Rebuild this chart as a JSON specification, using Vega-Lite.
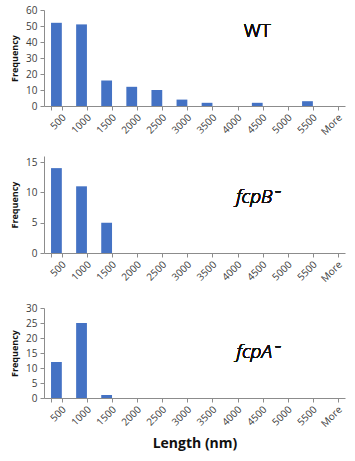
{
  "$schema": "https://vega.github.io/schema/vega-lite/v6.json",
  "padding": {"left": 10, "top": 5, "right": 4, "bottom": 5},
  "background": "white",
  "datasets": {
    "wt": [
      {"length": "500", "freq": 52}, {"length": "1000", "freq": 51}, {"length": "1500", "freq": 16},
      {"length": "2000", "freq": 12}, {"length": "2500", "freq": 10}, {"length": "3000", "freq": 4},
      {"length": "3500", "freq": 2}, {"length": "4000", "freq": 0}, {"length": "4500", "freq": 2},
      {"length": "5000", "freq": 0}, {"length": "5500", "freq": 3}, {"length": "More", "freq": 0}
    ],
    "fcpB": [
      {"length": "500", "freq": 14}, {"length": "1000", "freq": 11}, {"length": "1500", "freq": 5},
      {"length": "2000", "freq": 0}, {"length": "2500", "freq": 0}, {"length": "3000", "freq": 0},
      {"length": "3500", "freq": 0}, {"length": "4000", "freq": 0}, {"length": "4500", "freq": 0},
      {"length": "5000", "freq": 0}, {"length": "5500", "freq": 0}, {"length": "More", "freq": 0}
    ],
    "fcpA": [
      {"length": "500", "freq": 12}, {"length": "1000", "freq": 25}, {"length": "1500", "freq": 1},
      {"length": "2000", "freq": 0}, {"length": "2500", "freq": 0}, {"length": "3000", "freq": 0},
      {"length": "3500", "freq": 0}, {"length": "4000", "freq": 0}, {"length": "4500", "freq": 0},
      {"length": "5000", "freq": 0}, {"length": "5500", "freq": 0}, {"length": "More", "freq": 0}
    ]
  },
  "spacing": 19,
  "vconcat": [
    {
      "width": 301, "height": 96,
      "data": {"name": "wt"},
      "layer": [
        {
          "mark": {"type": "bar", "color": "#4472C4"},
          "encoding": {
            "x": {"field": "length", "type": "nominal", "sort": null, "title": null,
                  "scale": {"paddingInner": 0.57, "paddingOuter": 0.28}},
            "y": {"field": "freq", "type": "quantitative", "title": "Frequency",
                  "scale": {"domain": [0, 60]}, "axis": {"values": [0, 10, 20, 30, 40, 50, 60], "labelOverlap": false}}
          }
        },
        {
          "mark": {"type": "text", "text": "WT", "fontSize": 19, "font": "Open Sans", "fontWeight": 300, "color": "#111"},
          "encoding": {
            "x": {"datum": "4500", "title": null},
            "y": {"datum": 47, "title": "Frequency", "axis": {"values": [0, 10, 20, 30, 40, 50, 60], "labelOverlap": false}}
          }
        }
      ]
    },
    {
      "width": 301, "height": 97,
      "data": {"name": "fcpB"},
      "layer": [
        {
          "mark": {"type": "bar", "color": "#4472C4"},
          "encoding": {
            "x": {"field": "length", "type": "nominal", "sort": null, "title": null,
                  "scale": {"paddingInner": 0.57, "paddingOuter": 0.28}},
            "y": {"field": "freq", "type": "quantitative", "title": "Frequency",
                  "scale": {"domain": [0, 15]}, "axis": {"values": [0, 5, 10, 15], "labelOverlap": false}}
          }
        },
        {
          "mark": {"type": "text", "text": "fcpB⁻", "fontSize": 19, "font": "Open Sans", "fontWeight": 300, "fontStyle": "italic", "color": "#111"},
          "encoding": {
            "x": {"datum": "4500", "title": null},
            "y": {"datum": 9.3, "title": "Frequency", "axis": {"values": [0, 5, 10, 15], "labelOverlap": false}}
          }
        }
      ]
    },
    {
      "width": 301, "height": 90,
      "data": {"name": "fcpA"},
      "layer": [
        {
          "mark": {"type": "bar", "color": "#4472C4"},
          "encoding": {
            "x": {"field": "length", "type": "nominal", "sort": null, "title": "Length (nm)",
                  "scale": {"paddingInner": 0.57, "paddingOuter": 0.28},
                  "axis": {"titleFontSize": 14, "titleFontWeight": "bold", "titlePadding": 8}},
            "y": {"field": "freq", "type": "quantitative", "title": "Frequency",
                  "scale": {"domain": [0, 30]}, "axis": {"values": [0, 5, 10, 15, 20, 25, 30], "labelOverlap": false}}
          }
        },
        {
          "mark": {"type": "text", "text": "fcpA⁻", "fontSize": 19, "font": "Open Sans", "fontWeight": 300, "fontStyle": "italic", "color": "#111"},
          "encoding": {
            "x": {"datum": "4500", "title": "Length (nm)", "axis": {"titleFontSize": 14, "titleFontWeight": "bold", "titlePadding": 8}},
            "y": {"datum": 15.5, "title": "Frequency", "axis": {"values": [0, 5, 10, 15, 20, 25, 30], "labelOverlap": false}}
          }
        }
      ]
    }
  ],
  "config": {
    "view": {"stroke": null},
    "font": "Open Sans",
    "axis": {
      "grid": false,
      "domainColor": "#8c8c8c",
      "tickColor": "#8c8c8c",
      "labelColor": "#404040",
      "labelFont": "Open Sans",
      "labelFontSize": 10,
      "titleFont": "Open Sans",
      "titleColor": "#111",
      "tickSize": 4
    },
    "axisX": {"labelAngle": -45, "tickBand": "extent", "labelPadding": 2, "labelOffset": 4},
    "axisY": {"titleFontSize": 9, "titleFontWeight": "bold", "titlePadding": 6, "labelPadding": 3}
  }
}
